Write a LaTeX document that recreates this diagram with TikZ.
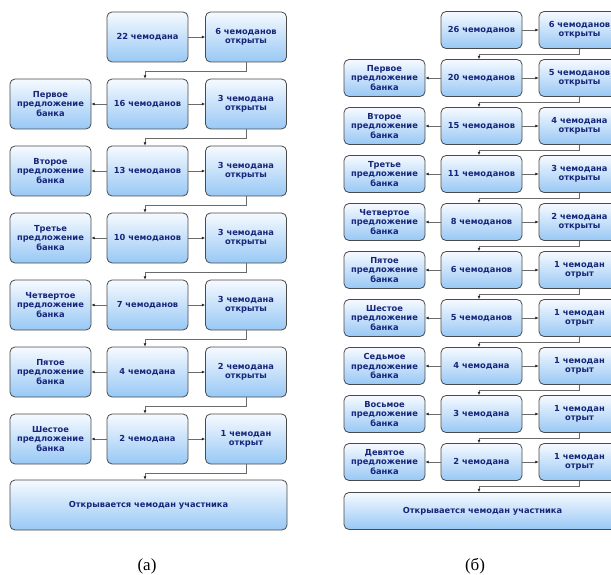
\documentclass[tikz,border=0pt]{standalone}
\usepackage{fontspec}
\usetikzlibrary{arrows.meta,calc}
\newfontfamily\boxfont{DejaVu Sans}
\newfontfamily\capfont{Liberation Serif}
\definecolor{boxtop}{HTML}{F6FAFF}
\definecolor{boxbot}{HTML}{98C8F5}
\definecolor{boxline}{HTML}{4A4A4A}
\definecolor{boxtext}{HTML}{17257A}
\definecolor{connline}{HTML}{6A6A6A}
\tikzset{
  boxA/.style={draw=boxline, line width=0.8pt, rounded corners=5pt,
    top color=boxtop, bottom color=boxbot, minimum width=81pt, minimum height=50pt,
    align=center, text=boxtext, font=\boxfont\bfseries\fontsize{8.3}{9.3}\selectfont, inner sep=1pt},
  boxB/.style={boxA, minimum height=37pt},
  wideA/.style={boxA, minimum width=277pt},
  wideB/.style={boxB, minimum width=277pt},
  conn/.style={draw=connline, line width=0.7pt, -{Latex[length=3.2pt,width=3pt,color=black!85]}},
  caption/.style={font=\capfont\fontsize{17}{20}\selectfont}
}
\begin{document}
\begin{tikzpicture}[x=1pt,y=-1pt]
\useasboundingbox (0,0) rectangle (611,575);
\clip (0,0) rectangle (611,575);
% ---------------- (a) ----------------
\node[boxA] (am1) at (147.5,37) {22 чемодана};
\node[boxA] (ar1) at (246,37) {6 чемоданов\\открыты};
\node[boxA] (al2) at (50.5,104) {Первое\\предложение\\банка};
\node[boxA] (am2) at (147.5,104) {16 чемоданов};
\node[boxA] (ar2) at (246,104) {3 чемодана\\открыты};
\node[boxA] (al3) at (50.5,171) {Второе\\предложение\\банка};
\node[boxA] (am3) at (147.5,171) {13 чемоданов};
\node[boxA] (ar3) at (246,171) {3 чемодана\\открыты};
\node[boxA] (al4) at (50.5,238) {Третье\\предложение\\банка};
\node[boxA] (am4) at (147.5,238) {10 чемоданов};
\node[boxA] (ar4) at (246,238) {3 чемодана\\открыты};
\node[boxA] (al5) at (50.5,305) {Четвертое\\предложение\\банка};
\node[boxA] (am5) at (147.5,305) {7 чемоданов};
\node[boxA] (ar5) at (246,305) {3 чемодана\\открыты};
\node[boxA] (al6) at (50.5,372) {Пятое\\предложение\\банка};
\node[boxA] (am6) at (147.5,372) {4 чемодана};
\node[boxA] (ar6) at (246,372) {2 чемодана\\открыты};
\node[boxA] (al7) at (50.5,439) {Шестое\\предложение\\банка};
\node[boxA] (am7) at (147.5,439) {2 чемодана};
\node[boxA] (ar7) at (246,439) {1 чемодан\\открыт};
\node[wideA] (afin) at (148.5,505) {Открывается чемодан участника};
\node[caption] (acap) at (147,566) {(a)};
\draw[conn] (am1) -- (ar1);
\foreach \i in {2,...,7} {
  \draw[conn] (am\i) -- (al\i);
  \draw[conn] (am\i) -- (ar\i);
}
\foreach \i/\j in {1/2,2/3,3/4,4/5,5/6,6/7} {
  \draw[conn] (ar\i.south) -- ++(0,8.5) -| ([xshift=-2.5pt]am\j.north);
}
\draw[conn] (ar7.south) -- ++(0,8.5) -| ([xshift=-3.5pt]afin.north);
% ---------------- (б) ----------------
\node[boxB] (bm1) at (481.5,30) {26 чемоданов};
\node[boxB] (br1) at (579.5,30) {6 чемоданов\\открыты};
\node[boxB] (bl2) at (384.5,78) {Первое\\предложение\\банка};
\node[boxB] (bm2) at (481.5,78) {20 чемоданов};
\node[boxB] (br2) at (579.5,78) {5 чемоданов\\открыты};
\node[boxB] (bl3) at (384.5,126) {Второе\\предложение\\банка};
\node[boxB] (bm3) at (481.5,126) {15 чемоданов};
\node[boxB] (br3) at (579.5,126) {4 чемодана\\открыты};
\node[boxB] (bl4) at (384.5,174) {Третье\\предложение\\банка};
\node[boxB] (bm4) at (481.5,174) {11 чемоданов};
\node[boxB] (br4) at (579.5,174) {3 чемодана\\открыты};
\node[boxB] (bl5) at (384.5,222) {Четвертое\\предложение\\банка};
\node[boxB] (bm5) at (481.5,222) {8 чемоданов};
\node[boxB] (br5) at (579.5,222) {2 чемодана\\открыты};
\node[boxB] (bl6) at (384.5,270) {Пятое\\предложение\\банка};
\node[boxB] (bm6) at (481.5,270) {6 чемоданов};
\node[boxB] (br6) at (579.5,270) {1 чемодан\\отрыт};
\node[boxB] (bl7) at (384.5,318) {Шестое\\предложение\\банка};
\node[boxB] (bm7) at (481.5,318) {5 чемоданов};
\node[boxB] (br7) at (579.5,318) {1 чемодан\\отрыт};
\node[boxB] (bl8) at (384.5,366) {Седьмое\\предложение\\банка};
\node[boxB] (bm8) at (481.5,366) {4 чемодана};
\node[boxB] (br8) at (579.5,366) {1 чемодан\\отрыт};
\node[boxB] (bl9) at (384.5,414) {Восьмое\\предложение\\банка};
\node[boxB] (bm9) at (481.5,414) {3 чемодана};
\node[boxB] (br9) at (579.5,414) {1 чемодан\\отрыт};
\node[boxB] (bl10) at (384.5,462) {Девятое\\предложение\\банка};
\node[boxB] (bm10) at (481.5,462) {2 чемодана};
\node[boxB] (br10) at (579.5,462) {1 чемодан\\отрыт};
\node[wideB] (bfin) at (482.5,511) {Открывается чемодан участника};
\node[caption] (bcap) at (475,566) {(б)};
\draw[conn] (bm1) -- (br1);
\foreach \i in {2,...,10} {
  \draw[conn] (bm\i) -- (bl\i);
  \draw[conn] (bm\i) -- (br\i);
}
\foreach \i/\j in {1/2,2/3,3/4,4/5,5/6,6/7,7/8,8/9,9/10} {
  \draw[conn] (br\i.south) -- ++(0,5.5) -| ([xshift=-2.5pt]bm\j.north);
}
\draw[conn] (br10.south) -- ++(0,5.5) -| ([xshift=-3.5pt]bfin.north);
\end{tikzpicture}
\end{document}
